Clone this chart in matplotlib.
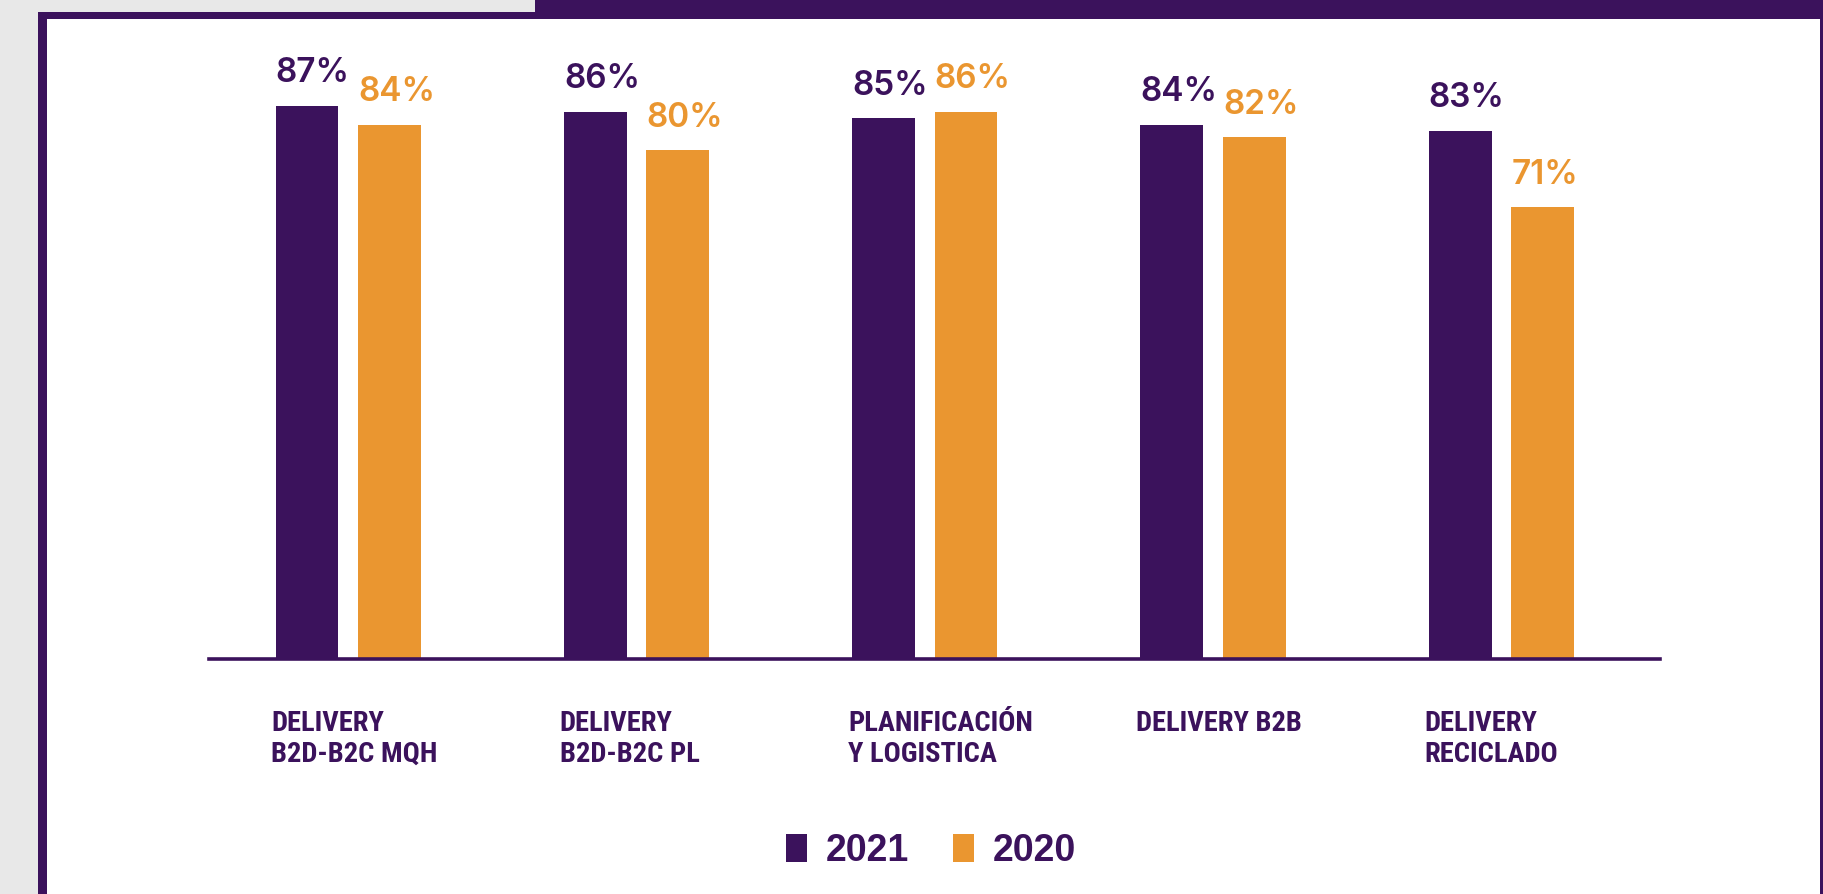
import matplotlib
matplotlib.use('Agg')
import matplotlib.pyplot as plt
from matplotlib import font_manager
from matplotlib.font_manager import FontProperties
from matplotlib.patches import Rectangle, Patch
import numpy as np

# data
categories = ["DELIVERY\nB2D-B2C MQH", "DELIVERY\nB2D-B2C PL", "PLANIFICACIÓN\nY LOGISTICA",
              "DELIVERY B2B", "DELIVERY\nRECICLADO"]
values_2021 = [87, 86, 85, 84, 83]
values_2020 = [84, 80, 86, 82, 71]
series_labels = ["2021", "2020"]

PURPLE = "#3b125c"
ORANGE = "#ea9630"
GREY = "#e8e8e8"

fonts = font_manager.fontManager.ttflist
installed = {f.name for f in fonts}


def pick_condensed_bold():
    # prefer a real condensed/narrow bold face, else plain bold
    for f in fonts:
        if f.name in ("Liberation Sans Narrow", "Roboto Condensed") and f.weight in (700, 'bold'):
            return FontProperties(fname=f.fname)
    for f in fonts:
        if f.stretch in ('condensed', 'semi-condensed') and f.weight in (700, 'bold') \
                and f.style == 'normal':
            return FontProperties(fname=f.fname)
    fam = "Roboto" if "Roboto" in installed else "DejaVu Sans"
    return FontProperties(family=fam, weight='bold')


cond_fp = pick_condensed_bold()
num_font = "Inter" if "Inter" in installed else "DejaVu Sans"
legend_font = "Liberation Sans" if "Liberation Sans" in installed else "DejaVu Sans"

W, H = 1823, 894
fig = plt.figure(figsize=(W / 100, H / 100), dpi=100)
fig.patch.set_facecolor("white")


def frame_rect(x0, y0, x1, y1, color):
    # rectangle given in pixels from the top-left corner
    fig.patches.append(Rectangle((x0 / W, 1 - y1 / H), (x1 - x0) / W, (y1 - y0) / H,
                                 transform=fig.transFigure, facecolor=color,
                                 edgecolor='none', zorder=0))


# grey page + purple card frame
frame_rect(0, 0, 38, H, GREY)
frame_rect(38, 0, 535, 12, GREY)
frame_rect(38, 12, 47, H, PURPLE)
frame_rect(38, 12, 535, 19, PURPLE)
frame_rect(535, 0, W, 19, PURPLE)
frame_rect(1820, 0, W, H, PURPLE)

ax = fig.add_axes([209 / W, (H - 659) / H, (1660 - 209) / W, 659 / H])
ax.set_facecolor('none')
ax.set_xlim(-0.483, 4.55)
ax.set_ylim(0, 103.6)

x = np.arange(len(categories))
width = 0.218
off = 0.143
ax.bar(x - off, values_2021, width=width, color=PURPLE, zorder=2)
ax.bar(x + off, values_2020, width=width, color=ORANGE, zorder=2)

for xi, v in zip(x, values_2021):
    ax.annotate(f"{v}%", (xi - off - width / 2, v), xytext=(0, 17), textcoords='offset points',
                ha='left', va='baseline', fontsize=24, fontweight='semibold',
                family=num_font, color=PURPLE)
for xi, v in zip(x, values_2020):
    ax.annotate(f"{v}%", (xi + off - width / 2, v), xytext=(0, 17), textcoords='offset points',
                ha='left', va='baseline', fontsize=24, fontweight='semibold',
                family=num_font, color=ORANGE)

lab_fp = cond_fp.copy()
lab_fp.set_size(20.5)
for xi, cat in zip(x, categories):
    ax.annotate(cat, (xi - off - width / 2, 0), xytext=(-3, -37), textcoords='offset points',
                ha='left', va='top', fontproperties=lab_fp,
                color=PURPLE, linespacing=1.15)

for side in ['left', 'right', 'top']:
    ax.spines[side].set_visible(False)
ax.spines['bottom'].set_color(PURPLE)
ax.spines['bottom'].set_linewidth(2.6)
ax.set_xticks([])
ax.set_yticks([])

handles = [Patch(facecolor=PURPLE), Patch(facecolor=ORANGE)]
fig.legend(handles, series_labels, loc='center', bbox_to_anchor=(931 / W, 1 - 851 / H),
           ncol=2, frameon=False, labelcolor=PURPLE,
           prop={'family': legend_font, 'weight': 'bold', 'size': 27},
           handlelength=0.56, handleheight=0.8, handletextpad=0.5, columnspacing=1.15)

fig.savefig("out.png", dpi=100, facecolor=fig.get_facecolor())
